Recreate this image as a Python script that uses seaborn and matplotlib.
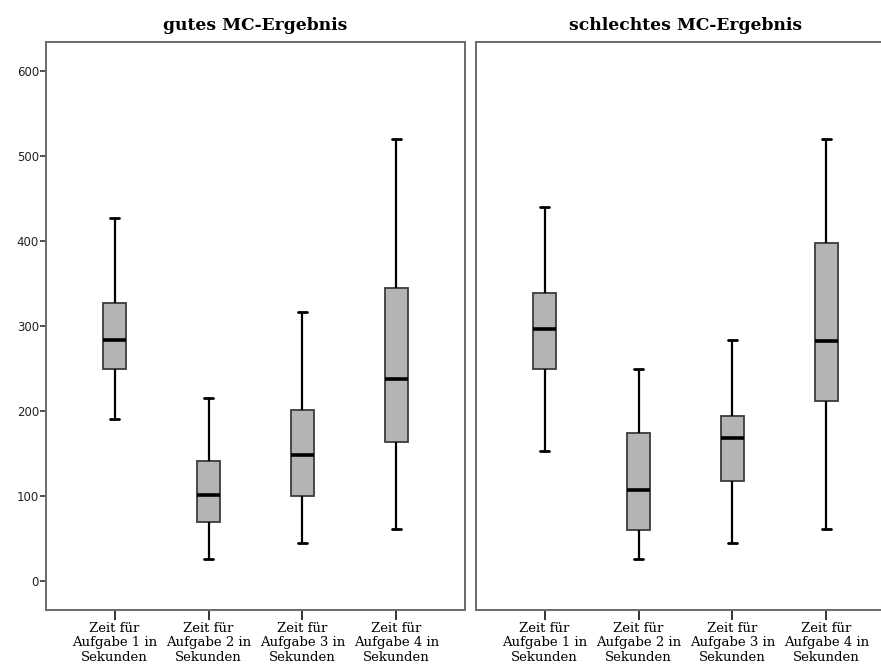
import numpy as np
import pandas as pd
import matplotlib.pyplot as plt
import seaborn as sns

sns.set_style("ticks")

panels = ["gutes MC-Ergebnis", "schlechtes MC-Ergebnis"]
tasks = ["Zeit für\nAufgabe 1 in\nSekunden",
         "Zeit für\nAufgabe 2 in\nSekunden",
         "Zeit für\nAufgabe 3 in\nSekunden",
         "Zeit für\nAufgabe 4 in\nSekunden"]

# five-number summaries (min, Q1, median, Q3, max)
good_t1 = [191, 249, 283, 327, 427]
good_t2 = [26, 70, 101, 141, 216]
good_t3 = [45, 100, 148, 201, 316]
good_t4 = [62, 164, 238, 345, 520]

bad_t1 = [153, 249, 297, 339, 440]
bad_t2 = [26, 61, 107, 174, 250]
bad_t3 = [45, 118, 169, 194, 283]
bad_t4 = [62, 212, 282, 397, 520]

good = [good_t1, good_t2, good_t3, good_t4]
bad = [bad_t1, bad_t2, bad_t3, bad_t4]

rows = []
for panel, series in zip(panels, [good, bad]):
    for task, vals in zip(tasks, series):
        for v in vals:
            rows.append({"panel": panel, "task": task, "value": v})
df = pd.DataFrame(rows)

fig = plt.figure(figsize=(8.81, 6.69), dpi=100)
W, H = 881, 669
ax_w = 419 / W
ax_b = 1 - 610 / H
ax_h = (610 - 42) / H
ax0 = fig.add_axes([46 / W, ax_b, ax_w, ax_h])
ax1 = fig.add_axes([476 / W, ax_b, ax_w, ax_h])

spine_col = "#6a6a6a"

for ax, panel in zip([ax0, ax1], panels):
    sub = df[df["panel"] == panel]
    sns.boxplot(data=sub, x="task", y="value", order=tasks, ax=ax,
                color="#b4b4b4", saturation=1, width=0.245,
                whis=(0, 100), fliersize=0, linecolor="black", linewidth=1.6,
                boxprops={"edgecolor": "#3c3c3c", "linewidth": 1.3},
                medianprops={"color": "black", "linewidth": 2.6},
                capprops={"color": "black", "linewidth": 2.0},
                capwidths=0.1)
    ax.set_xlim(-0.73, 3.73)
    ax.set_ylim(-33.5, 633.5)
    ax.set_xlabel("")
    ax.set_ylabel("")
    ax.set_title(panel, family="DejaVu Serif", fontweight="bold",
                 fontsize=12.3, pad=9, color="black")
    for s in ax.spines.values():
        s.set_visible(True)
        s.set_color(spine_col)
        s.set_linewidth(1.4)
    ax.tick_params(axis="x", length=7, width=1.4, color="#333333", pad=1.5)
    for lab in ax.get_xticklabels():
        lab.set_family("DejaVu Serif")
        lab.set_fontsize(9.5)
        lab.set_linespacing(1.15)
        lab.set_color("black")

ax0.set_yticks([0, 100, 200, 300, 400, 500, 600])
ax0.tick_params(axis="y", length=4, width=1.2, color="#333333",
                labelsize=8.5, pad=1, labelcolor="#222222")
ax1.set_yticks([])

fig.savefig("out.png", dpi=100)
